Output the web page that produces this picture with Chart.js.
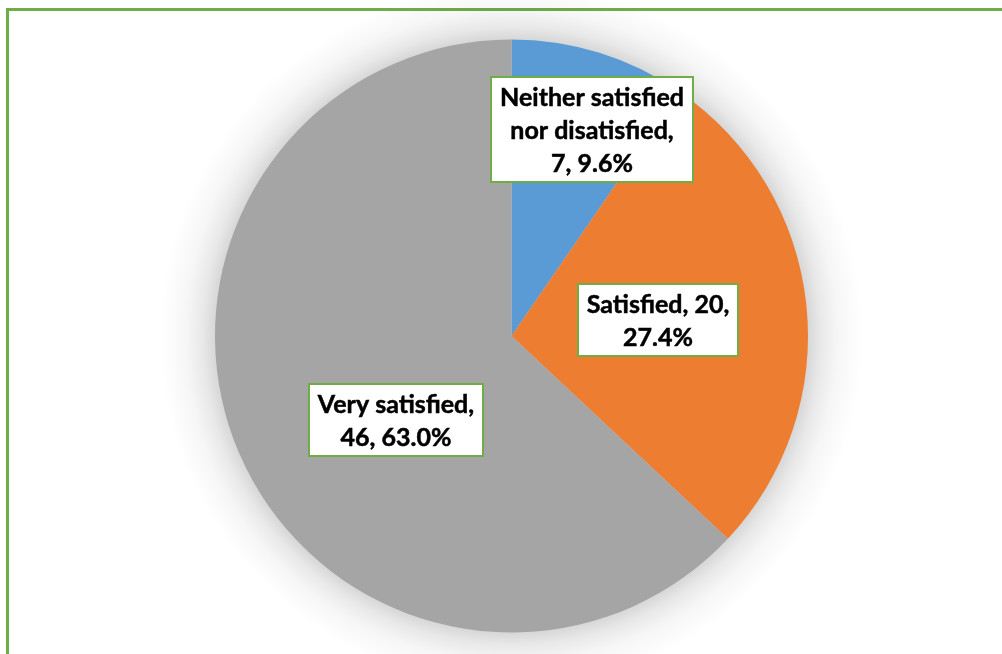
<!DOCTYPE html>
<html>
<head>
<meta charset="utf-8">
<script src="https://cdn.jsdelivr.net/npm/chart.js@4.4.0/dist/chart.umd.min.js"></script>
<style>
  html, body { margin: 0; padding: 0; background: #ffffff; overflow: hidden; }
  canvas { display: block; }
</style>
</head>
<body>
<canvas id="grafico" width="1002" height="654"></canvas>
<script>
// Datos del gráfico
const categorias = ["Neither satisfied nor disatisfied", "Satisfied", "Very satisfied"];
const valores = [7, 20, 46];
const porcentajes = ["9.6%", "27.4%", "63.0%"];
// Texto de las etiquetas (líneas ya cortadas como en el original)
const lineasEtiquetas = [
  ["Neither satisfied", "nor disatisfied,", "7, 9.6%"],
  ["Satisfied, 20,", "27.4%"],
  ["Very satisfied,", "46, 63.0%"],
];
const colores = ["#5b9bd5", "#ed7d31", "#a5a5a5"];

// Ubicación de las etiquetas relativa a cada sector (fracción del radio, giro en grados)
const fraccionRadio = [0.746, 0.498, 0.482];
const giroAngulo = [4, 0, -12.5];

const verde = "#70ad47";

// Marco verde y sombra suave detrás del pie (degradado radial)
const fondoPie = {
  id: "fondoPie",
  beforeDraw(chart) {
    const ctx = chart.ctx;
    ctx.save();
    ctx.fillStyle = "#ffffff";
    ctx.fillRect(0, 0, chart.width, chart.height);
    ctx.strokeStyle = verde;
    ctx.lineWidth = 3;
    ctx.strokeRect(7.5, 9.5, chart.width + 50, chart.height + 50);
    ctx.restore();
  },
  beforeDatasetsDraw(chart) {
    const area = chart.chartArea;
    const x = (area.left + area.right) / 2;
    const y = (area.top + area.bottom) / 2;
    const radio = Math.min(area.right - area.left, area.bottom - area.top) / 2;
    const ctx = chart.ctx;
    const ext = 55;
    const grad = ctx.createRadialGradient(x, y, radio - 2, x, y, radio + ext);
    grad.addColorStop(0, "rgba(0, 0, 0, 0.17)");
    grad.addColorStop(0.25, "rgba(0, 0, 0, 0.09)");
    grad.addColorStop(0.55, "rgba(0, 0, 0, 0.035)");
    grad.addColorStop(1, "rgba(0, 0, 0, 0)");
    ctx.save();
    ctx.fillStyle = grad;
    ctx.beginPath();
    ctx.arc(x, y, radio + ext, 0, Math.PI * 2);
    ctx.fill();
    ctx.restore();
  },
};

// Etiquetas con caja blanca y borde verde
const etiquetas = {
  id: "etiquetas",
  afterDatasetsDraw(chart) {
    const ctx = chart.ctx;
    const arcos = chart.getDatasetMeta(0).data;
    const altoLinea = 33;
    ctx.save();
    ctx.font = "bold 25px Lato";
    ctx.textAlign = "center";
    ctx.textBaseline = "middle";
    arcos.forEach((arco, i) => {
      const p = arco.getProps(["x", "y", "startAngle", "endAngle", "outerRadius"], true);
      const medio = (p.startAngle + p.endAngle) / 2 + (giroAngulo[i] * Math.PI) / 180;
      const r = p.outerRadius * fraccionRadio[i];
      const cx = p.x + Math.cos(medio) * r;
      const cy = p.y + Math.sin(medio) * r;
      const lineas = lineasEtiquetas[i];
      let ancho = 0;
      lineas.forEach((l) => (ancho = Math.max(ancho, ctx.measureText(l).width)));
      const w = Math.round(ancho + 20);
      const h = lineas.length * altoLinea + 8;
      const x0 = Math.round(cx - w / 2);
      const y0 = Math.round(cy - h / 2);
      ctx.fillStyle = "#ffffff";
      ctx.fillRect(x0, y0, w, h);
      ctx.strokeStyle = verde;
      ctx.lineWidth = 2;
      ctx.strokeRect(x0 + 1, y0 + 1, w - 2, h - 2);
      ctx.fillStyle = "#000000";
      ctx.strokeStyle = "#000000";
      ctx.lineWidth = 0.5;
      lineas.forEach((l, j) => {
        const ty = y0 + 4 + altoLinea * (j + 0.5) + 1;
        ctx.fillText(l, x0 + w / 2, ty);
        ctx.strokeText(l, x0 + w / 2, ty);
      });
    });
    ctx.restore();
  },
};

const ctx = document.getElementById("grafico").getContext("2d");
new Chart(ctx, {
  type: "pie",
  data: {
    labels: categorias,
    datasets: [
      {
        data: valores,
        backgroundColor: colores,
        borderWidth: 0,
        hoverOffset: 0,
      },
    ],
  },
  options: {
    responsive: false,
    animation: false,
    layout: {
      padding: { left: 215, right: 194, top: 39, bottom: 21 },
    },
    plugins: {
      legend: { display: false },
      tooltip: { enabled: false },
    },
  },
  plugins: [fondoPie, etiquetas],
});
</script>
</body>
</html>
